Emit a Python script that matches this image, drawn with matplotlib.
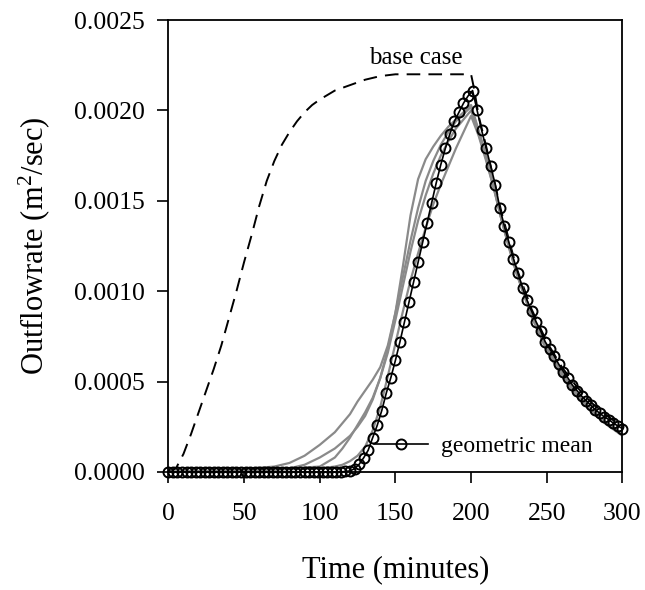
import matplotlib
matplotlib.use("Agg")
import matplotlib.pyplot as plt

plt.rcParams['font.family'] = ['Liberation Serif', 'DejaVu Serif']
plt.rcParams['mathtext.fontset'] = 'custom'
plt.rcParams['mathtext.rm'] = 'Liberation Serif'
plt.rcParams['mathtext.it'] = 'Liberation Serif:italic'

# base case (dashed)
base_t = [0, 5, 10, 15, 20, 25, 30, 35, 40, 45, 50, 55, 60, 65, 70, 75, 80, 85, 90, 95,
          100, 110, 120, 130, 140, 150, 160, 170, 180, 190, 200, 202, 205, 210, 220, 230,
          240, 250, 260, 270, 280, 290, 300]
base_q = [0.0, 0.00002, 0.00010, 0.00021, 0.00033, 0.00045, 0.00057, 0.00070, 0.00085, 0.00100,
          0.00116, 0.00131, 0.00147, 0.00161, 0.00172, 0.00181, 0.00188, 0.00194, 0.00199, 0.00203,
          0.00206, 0.00211, 0.00214, 0.00217, 0.00219, 0.00220, 0.00220, 0.00220, 0.00220, 0.00220,
          0.00220, 0.00212, 0.00197, 0.00180, 0.00144, 0.00113, 0.00090, 0.00072, 0.00058, 0.00047,
          0.00038, 0.00031, 0.00025]

# realisations (grey)
ga_t = [0, 40, 80, 90, 100, 110, 120, 125, 130, 135, 140, 145, 150, 155, 160, 165, 170, 175, 180,
        185, 190, 195, 200, 205, 210, 215, 220, 225, 230, 240, 250, 260, 270, 280, 290, 300]
ga_q = [0.0, 0.000005, 0.00002, 0.00004, 0.00008, 0.00013, 0.00020, 0.00025, 0.00031, 0.00040,
        0.00052, 0.00068, 0.00088, 0.00114, 0.00142, 0.00162, 0.00173, 0.00180, 0.00186, 0.00191,
        0.00195, 0.00199, 0.00203, 0.00189, 0.00175, 0.00159, 0.00141, 0.00126, 0.00111, 0.00087,
        0.00069, 0.00055, 0.00043, 0.00034, 0.00027, 0.00021]

gb_t = [0, 40, 70, 80, 90, 100, 110, 115, 120, 125, 130, 135, 140, 145, 150, 155, 160, 165, 170,
        175, 180, 185, 190, 195, 200, 205, 210, 215, 220, 225, 230, 240, 250, 260, 270, 280, 290, 300]
gb_q = [0.0, 0.00001, 0.00003, 0.00005, 0.00009, 0.00015, 0.00022, 0.00027, 0.00032, 0.00039,
        0.00045, 0.00051, 0.00058, 0.00070, 0.00088, 0.00108, 0.00128, 0.00146, 0.00161, 0.00172,
        0.00181, 0.00188, 0.00194, 0.00198, 0.00202, 0.00188, 0.00174, 0.00158, 0.00140, 0.00125,
        0.00110, 0.00086, 0.00068, 0.00054, 0.00042, 0.00033, 0.00026, 0.00021]

gc_t = [0, 60, 100, 110, 115, 120, 125, 130, 135, 140, 145, 150, 155, 160, 165, 170, 175, 180,
        185, 190, 195, 200, 205, 210, 215, 220, 225, 230, 240, 250, 260, 270, 280, 290, 300]
gc_q = [0.0, 0.00001, 0.00003, 0.00008, 0.00013, 0.00019, 0.00026, 0.00033, 0.00041, 0.00052,
        0.00066, 0.00084, 0.00103, 0.00122, 0.00139, 0.00153, 0.00165, 0.00175, 0.00183, 0.00190,
        0.00195, 0.00200, 0.00187, 0.00173, 0.00157, 0.00140, 0.00124, 0.00110, 0.00086, 0.00067,
        0.00053, 0.00042, 0.00033, 0.00026, 0.00020]

gd_t = [0, 60, 100, 110, 115, 120, 125, 130, 135, 140, 145, 150, 155, 160, 165, 170, 175, 180,
        185, 190, 195, 200, 205, 210, 215, 220, 225, 230, 240, 250, 260, 270, 280, 290, 300]
gd_q = [0.0, 0.00001, 0.00002, 0.00003, 0.00004, 0.00006, 0.00009, 0.00014, 0.00023, 0.00036,
        0.00053, 0.00071, 0.00089, 0.00106, 0.00121, 0.00135, 0.00148, 0.00159, 0.00169, 0.00179,
        0.00188, 0.00197, 0.00186, 0.00172, 0.00157, 0.00140, 0.00125, 0.00111, 0.00087, 0.00068,
        0.00054, 0.00043, 0.00034, 0.00027, 0.00021]

# geometric mean, sampled every 3 minutes
gm_t = list(range(0, 301, 3))
gm_q = [0, 0, 0, 0, 0, 0, 0, 0, 0, 0,
        0, 0, 0, 0, 0, 0, 0, 0, 0, 0,
        0, 0, 0, 0, 0, 0, 0, 0, 0, 0,
        0, 0, 0, 0, 0, 0, 0, 0, 0,
        0.000003, 0.000006, 0.000018, 0.000042, 0.000078, 0.000120, 0.000190, 0.000258,
        0.000340, 0.000437, 0.000522, 0.000617, 0.000720, 0.000830, 0.000940, 0.001050,
        0.001160, 0.001270, 0.001380, 0.001490, 0.001600, 0.001700, 0.001790, 0.001870,
        0.001940, 0.001990, 0.002040, 0.002080, 0.002110,
        0.002000, 0.001890, 0.001790, 0.001690, 0.001590, 0.001460, 0.001360, 0.001270,
        0.001180, 0.001100, 0.001020, 0.000950, 0.000890, 0.000830, 0.000780, 0.000720,
        0.000680, 0.000640, 0.000595, 0.000555, 0.000520, 0.000480, 0.000450, 0.000420,
        0.000395, 0.000370, 0.000345, 0.000325, 0.000305, 0.000290, 0.000270, 0.000255,
        0.000240]

fig = plt.figure(figsize=(6.45, 5.9), dpi=100)
ax = fig.add_axes([0.261, 0.2, 0.704, 0.766])

grey = '#8a8a8a'
for t, q in [(ga_t, ga_q), (gb_t, gb_q), (gc_t, gc_q), (gd_t, gd_q)]:
    ax.plot(t, q, color=grey, lw=1.6, zorder=2)

ax.plot(base_t, base_q, color='black', lw=1.4, ls=(0, (7, 4.2)), zorder=1)

gm_line, = ax.plot(gm_t, gm_q, color='black', lw=1.2, marker='o', ms=7.2,
                   mfc='none', mec='black', mew=1.4, zorder=3, clip_on=False)

ax.text(163.5, 0.00229, 'base case', fontsize=18, ha='center', va='center')

ax.legend([gm_line], ['geometric mean'], loc='center left', bbox_to_anchor=(0.452, 0.056),
          frameon=False, fontsize=17, handlelength=2.3, handletextpad=0.55,
          borderpad=0, borderaxespad=0)

ax.set_xlim(0, 300)
ax.set_ylim(0, 0.0025)
ax.set_xticks([0, 50, 100, 150, 200, 250, 300])
ax.set_yticks([0.0, 0.0005, 0.0010, 0.0015, 0.0020, 0.0025])
ax.set_yticklabels(['0.0000', '0.0005', '0.0010', '0.0015', '0.0020', '0.0025'])
ax.tick_params(axis='both', direction='out', length=8, width=1.2, labelsize=18.5)
ax.tick_params(axis='x', pad=14)
ax.tick_params(axis='y', pad=9)
for s in ax.spines.values():
    s.set_linewidth(1.3)

ax.set_xlabel('Time (minutes)', fontsize=22, labelpad=22)
ax.set_ylabel('Outflowrate (m$^2$/sec)', fontsize=22, labelpad=16)

fig.savefig('out.png', dpi=100)
